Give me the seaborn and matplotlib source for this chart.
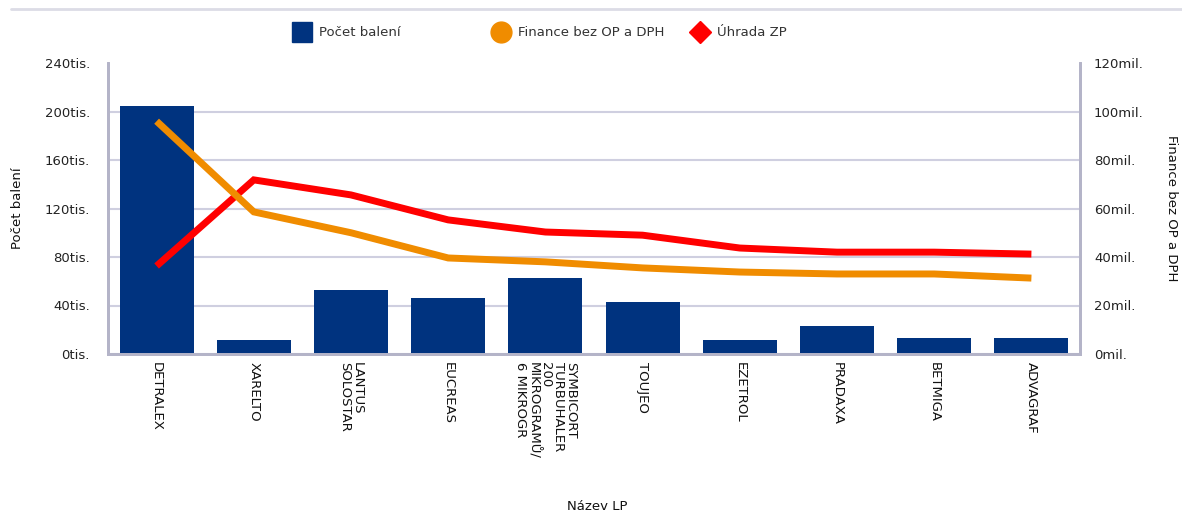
import numpy as np
import matplotlib
matplotlib.use("Agg")
import matplotlib.pyplot as plt
from matplotlib.lines import Line2D
import seaborn as sns

categories = ["DETRALEX", "XARELTO", "LANTUS\nSOLOSTAR", "EUCREAS",
              "SYMBICORT\nTURBUHALER\n200\nMIKROGRAMŮ/\n6 MIKROGR",
              "TOUJEO", "EZETROL", "PRADAXA", "BETMIGA", "ADVAGRAF"]
pocet_baleni = [204.5, 11.5, 52.8, 46.2, 62.7, 42.9, 11.5, 23.1, 13.2, 13.2]   # tis.
finance = [96.0, 58.6, 50.0, 39.6, 38.0, 35.5, 33.8, 33.0, 33.0, 31.3]        # mil.
uhrada = [36.3, 71.8, 65.6, 55.3, 50.3, 49.0, 43.7, 42.0, 42.0, 41.2]         # mil.
left_ticks = [0, 40, 80, 120, 160, 200, 240]
right_ticks = [0, 20, 40, 60, 80, 100, 120]

NAVY = "#00337f"
ORANGE = "#f08c00"
RED = "#ff0000"
SPINE = "#b4b4c8"
GRID = "#cfcfe0"

sns.set_theme(style="white")
plt.rcParams['font.family'] = ['DejaVu Sans']

fig = plt.figure(figsize=(11.82, 5.11), dpi=100)
ax = fig.add_axes([108/1182, 1-354/511, (1080-108)/1182, (354-63)/511])

sns.barplot(x=list(range(len(categories))), y=pocet_baleni, color=NAVY,
            saturation=1, width=0.76, ax=ax, zorder=2, linewidth=0,
            edgecolor=NAVY)
ax.set_ylim(0, 240)
ax.set_xlim(-0.5, len(categories)-0.5)
ax.set_yticks(left_ticks)
ax.set_yticklabels([f"{v}tis." for v in left_ticks], fontsize=9.5, color="#222222")
ax.set_xticks(range(len(categories)))
ax.set_xticklabels(categories, rotation=-90, fontsize=9.5, color="#111111",
                   va="top", ha="center", multialignment="left", linespacing=0.95)
ax.tick_params(axis="x", length=0, pad=6)
ax.tick_params(axis="y", length=0, pad=13)
ax.yaxis.grid(True, color=GRID, linewidth=1.5, zorder=0)
ax.get_ygridlines()[-1].set_visible(False)
ax.set_axisbelow(True)
for s in ["left", "right", "bottom"]:
    ax.spines[s].set_color(SPINE)
    ax.spines[s].set_linewidth(2)
ax.spines["top"].set_visible(False)
ax.set_ylabel("Počet balení", fontsize=9.5, color="#111111")
ax.yaxis.set_label_coords(-0.086, 0.5)
ax.set_xlabel("Název LP", fontsize=9.5, color="#111111")
ax.xaxis.set_label_coords(0.503, -0.5)

ax2 = ax.twinx()
xs = np.arange(len(categories))
sns.lineplot(x=xs, y=uhrada, color=RED, linewidth=5, ax=ax2,
             solid_capstyle="butt", solid_joinstyle="miter")
sns.lineplot(x=xs, y=finance, color=ORANGE, linewidth=5, ax=ax2,
             solid_capstyle="butt", solid_joinstyle="miter")
ax2.set_ylim(0, 120)
ax2.set_yticks(right_ticks)
ax2.set_yticklabels([f"{v}mil." for v in right_ticks], fontsize=9.5, color="#222222")
ax2.tick_params(axis="y", length=0, pad=10)
for s in ["left", "right", "bottom"]:
    ax2.spines[s].set_color(SPINE)
    ax2.spines[s].set_linewidth(2)
ax2.spines["top"].set_visible(False)
ax2.set_ylabel("Finance bez OP a DPH", fontsize=9.5, color="#111111",
               rotation=-90, va="center")
ax2.yaxis.set_label_coords(1.0 + (1172-1080)/972, 0.5)

# legend entries
entries = [
    (Line2D([], [], marker="s", color=NAVY, linestyle="none", markersize=15), "Počet balení", 295),
    (Line2D([], [], marker="o", color=ORANGE, linestyle="none", markersize=15), "Finance bez OP a DPH", 494),
    (Line2D([], [], marker="D", color=RED, linestyle="none", markersize=11), "Úhrada ZP", 693),
]
for h, lab, px in entries:
    fig.legend(handles=[h], labels=[lab], loc="center left",
               bbox_to_anchor=(px/1182, 1-33/511), frameon=False, fontsize=9.5,
               handlelength=1.0, handletextpad=0.8, borderpad=0, borderaxespad=0,
               labelcolor="#333333")

fig.add_artist(Line2D([11/1182, 1.0], [1-9/511, 1-9/511], color="#dcdce6",
                      linewidth=2, transform=fig.transFigure))

fig.savefig("out.png", dpi=100)
